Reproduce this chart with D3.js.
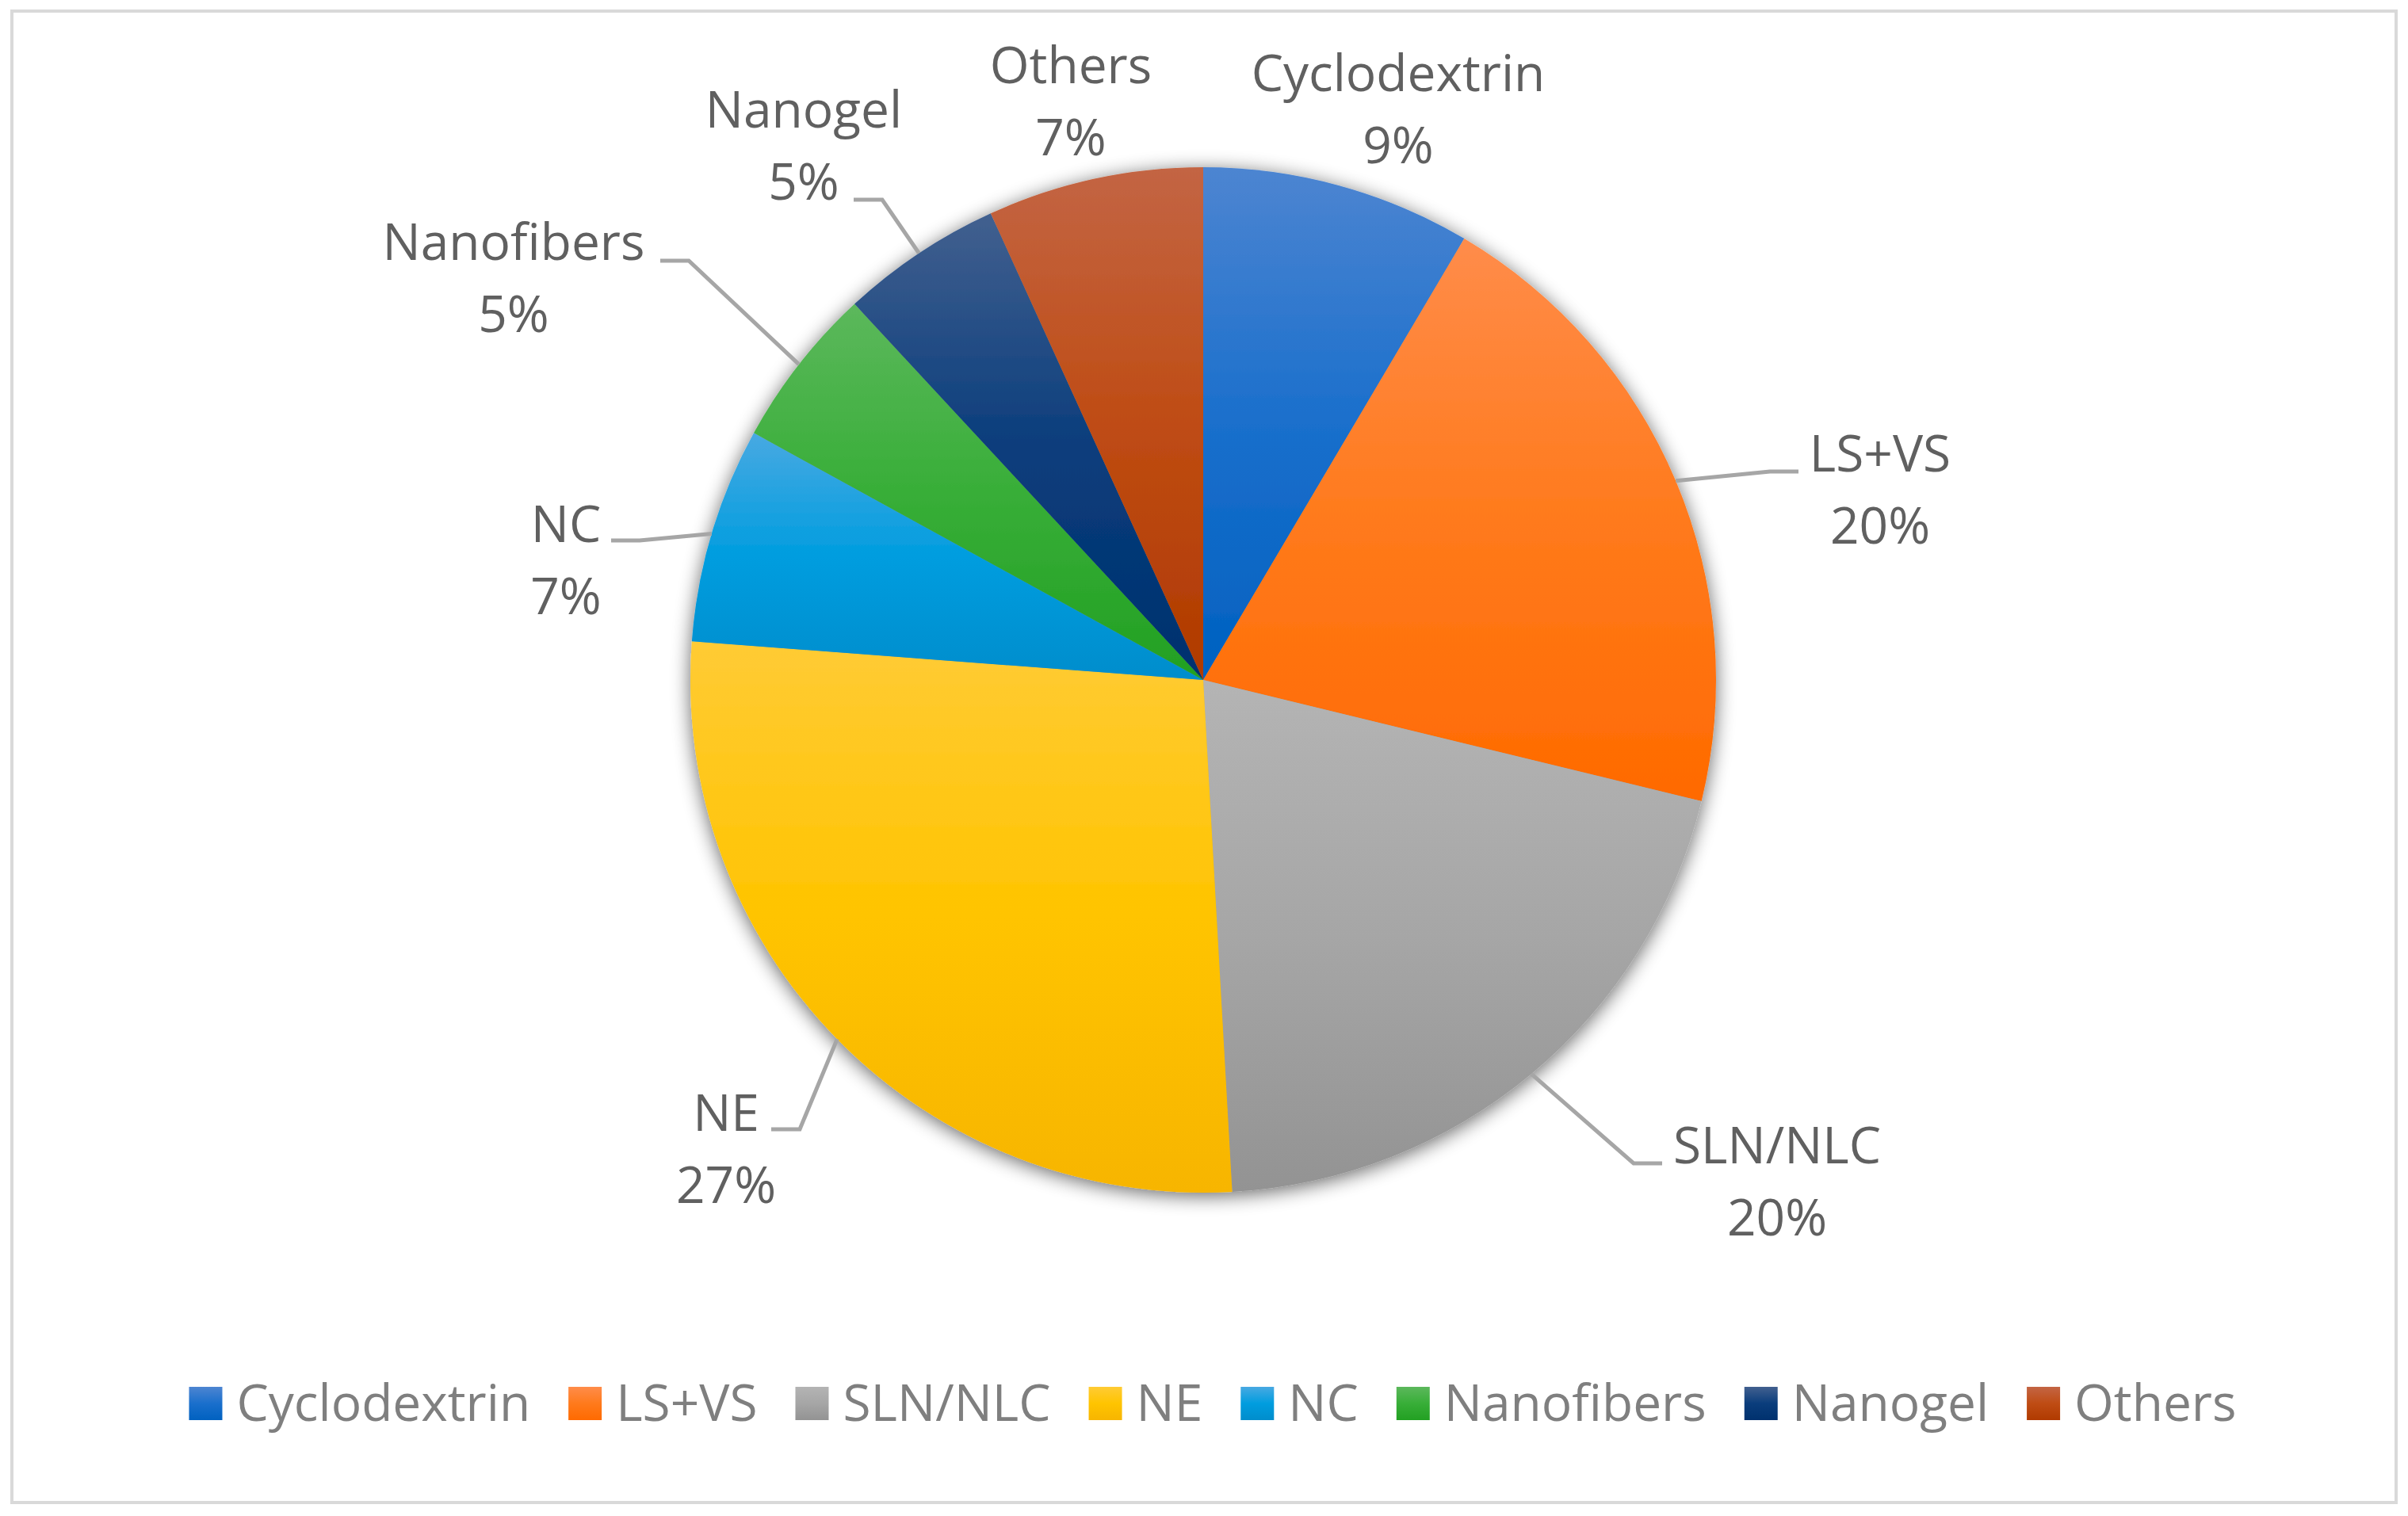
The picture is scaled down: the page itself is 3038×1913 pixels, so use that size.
<!DOCTYPE html>
<html>
<head>
<meta charset="utf-8">
<script src="https://cdn.jsdelivr.net/npm/d3@7"></script>
<style>
  html, body { margin: 0; padding: 0; background: #fff; }
  svg { display: block; font-family: "Open Sans", sans-serif; }
</style>
</head>
<body>
<div id="chart"></div>
<script>
// slice shares (angles), with the printed labels
const categories = ['Cyclodextrin', 'LS+VS', 'SLN/NLC', 'NE', 'NC', 'Nanofibers', 'Nanogel', 'Others'];
const values = [8.5, 20.3, 20.3, 27.1, 6.8, 5.1, 5.1, 6.8];
const percentLabels = ['9%', '20%', '20%', '27%', '7%', '5%', '5%', '7%'];

// gradient colours per slice: top, middle, bottom
const colorTop = ['#4d85d1', '#ff8c4a', '#b4b4b4', '#ffcb35', '#48a9e2', '#5cb85c', '#42608f', '#c36544'];
const colorMid = ['#1a6fcc', '#ff7a1c', '#a6a6a6', '#ffc400', '#009ddf', '#38ae38', '#0a3d7c', '#bf4c14'];
const colorBottom = ['#0061c0', '#ff6a00', '#939393', '#f7b500', '#008dcc', '#22a022', '#00316e', '#b03a00'];

// label layout: centre x and first baseline, leader line end
const labelPos = [[1764, 115], [2372, 595], [2242, 1468], [916, 1427], [714, 684], [648, 328], [1014, 161], [1351, 105]];
const leaderEnds = [null, [2269, 595], [2097, 1468], [973, 1425], [771, 682], [833, 329], [1077, 252], null];

const width = 3038, height = 1913;
const cx = 1518, cy = 858, radius = 647;
const fontSize = 64;

const svg = d3.select('#chart').append('svg')
  .attr('width', width)
  .attr('height', height);

const defs = svg.append('defs');

const shadow = defs.append('filter')
  .attr('id', 'shadow')
  .attr('x', '-20%').attr('y', '-20%')
  .attr('width', '140%').attr('height', '140%');
shadow.append('feGaussianBlur').attr('in', 'SourceAlpha').attr('stdDeviation', 12).attr('result', 'blur');
shadow.append('feOffset').attr('in', 'blur').attr('dx', 0).attr('dy', 4).attr('result', 'off');
shadow.append('feComponentTransfer').attr('in', 'off').attr('result', 'soft')
  .append('feFuncA').attr('type', 'linear').attr('slope', 0.6);
const merge = shadow.append('feMerge');
merge.append('feMergeNode').attr('in', 'soft');
merge.append('feMergeNode').attr('in', 'SourceGraphic');

categories.forEach((c, i) => {
  const g = defs.append('linearGradient')
    .attr('id', `grad${i}`)
    .attr('x1', 0).attr('y1', 0)
    .attr('x2', 0).attr('y2', 1);
  g.append('stop').attr('offset', '0%').attr('stop-color', colorTop[i]);
  g.append('stop').attr('offset', '50%').attr('stop-color', colorMid[i]);
  g.append('stop').attr('offset', '100%').attr('stop-color', colorBottom[i]);
});

// chart frame
svg.append('rect')
  .attr('x', 15).attr('y', 14)
  .attr('width', 3008).attr('height', 1882)
  .attr('fill', 'none')
  .attr('stroke', '#d9d9d9')
  .attr('stroke-width', 4);

const pie = d3.pie().sort(null).value(d => d.value);
const arcs = pie(categories.map((c, i) => ({ name: c, value: values[i], index: i })));

const arc = d3.arc().innerRadius(0).outerRadius(radius);

svg.append('g')
  .attr('transform', `translate(${cx},${cy})`)
  .attr('filter', 'url(#shadow)')
  .selectAll('path')
  .data(arcs)
  .join('path')
  .attr('d', arc)
  .attr('fill', d => `url(#grad${d.data.index})`);

// leader lines
const leaders = arcs.filter(d => leaderEnds[d.data.index]).map(d => {
  const a = (d.startAngle + d.endAngle) / 2;
  const start = [cx + radius * Math.sin(a), cy - radius * Math.cos(a)];
  const end = leaderEnds[d.data.index];
  const elbow = [end[0] + (end[0] > cx ? -36 : 36), end[1]];
  return [start, elbow, end];
});

svg.append('g')
  .selectAll('path')
  .data(leaders)
  .join('path')
  .attr('d', d3.line())
  .attr('fill', 'none')
  .attr('stroke', '#a6a6a6')
  .attr('stroke-width', 5);

// data labels
const labels = svg.append('g')
  .attr('fill', '#606060')
  .attr('font-size', fontSize)
  .attr('text-anchor', 'middle')
  .selectAll('text')
  .data(arcs)
  .join('text')
  .attr('x', d => labelPos[d.data.index][0])
  .attr('y', d => labelPos[d.data.index][1]);

labels.append('tspan')
  .attr('x', d => labelPos[d.data.index][0])
  .text(d => d.data.name);
labels.append('tspan')
  .attr('x', d => labelPos[d.data.index][0])
  .attr('dy', 91)
  .text(d => percentLabels[d.data.index]);

// legend
const legend = svg.append('g')
  .attr('font-size', fontSize)
  .attr('fill', '#7f7f7f');

const items = legend.selectAll('g')
  .data(categories)
  .join('g');

items.append('rect')
  .attr('width', 42)
  .attr('height', 42)
  .attr('y', 1750)
  .attr('fill', (d, i) => `url(#grad${i})`);

items.append('text')
  .attr('y', 1793)
  .text(d => d);

let xPos = 0;
const offsets = [];
items.each(function() {
  const w = d3.select(this).select('text').node().getComputedTextLength();
  offsets.push(xPos);
  xPos += 42 + 18 + w + 48;
});
const total = xPos - 48;
const legendStart = 1530 - total / 2;

items.each(function(d, i) {
  const item = d3.select(this);
  item.select('rect').attr('x', legendStart + offsets[i]);
  item.select('text').attr('x', legendStart + offsets[i] + 60);
});
</script>
</body>
</html>
